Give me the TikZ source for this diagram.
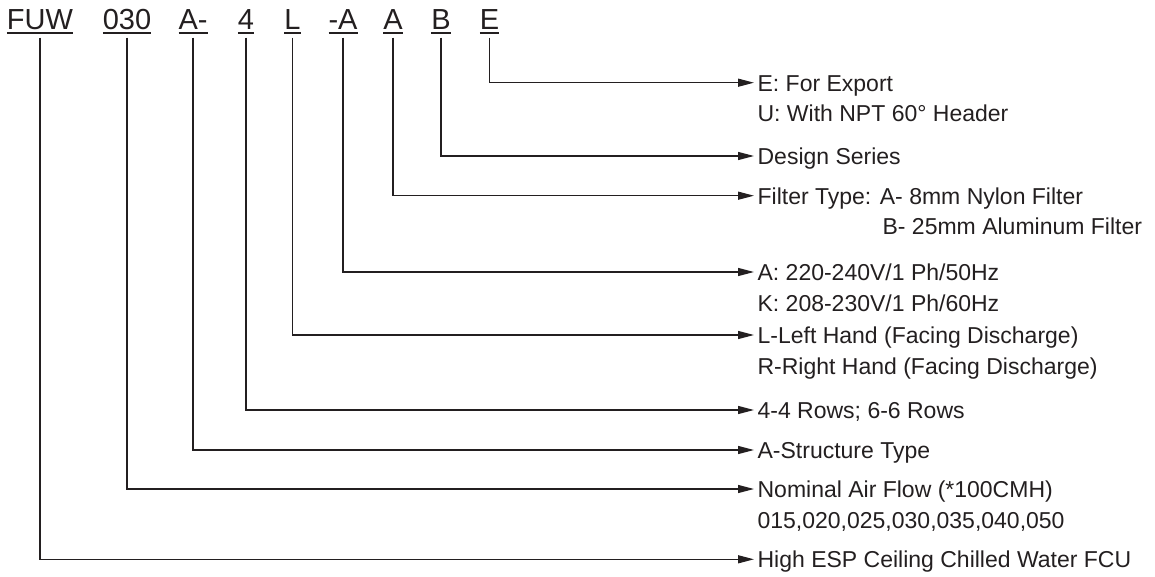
\documentclass[tikz,border=0pt]{standalone}
\usepackage{fontspec}
\setmainfont{Liberation Sans}
\usetikzlibrary{arrows.meta}
\definecolor{ink}{HTML}{231F20}
\tikzset{
  code/.style={font=\fontsize{14.5pt}{17pt}\selectfont, text=ink, inner sep=0pt, outer sep=0pt, text depth=0pt, anchor=base},
  desc/.style={font=\fontsize{11.5pt}{14pt}\selectfont, text=ink, inner ysep=0pt, inner xsep=1.8pt, outer sep=0pt, text height=8.5pt, text depth=0pt, anchor=base west},
  lead/.style={draw=ink, line width=0.65pt, -{Triangle[length=8pt,width=4pt]}},
  uline/.style={draw=ink, line width=0.95pt}
}
\begin{document}
\begin{tikzpicture}[x=0.5pt, y=-0.5pt]
  \useasboundingbox (0,0) rectangle (1155,577);
  % model code
  \node[code] (fuw)  at (40,29.3)    {FUW};
  \node[code] (cap)  at (127,29.3)   {030};
  \node[code] (stru) at (193,29.3)   {A-};
  \node[code] (row)  at (246,29.3)   {4};
  \node[code] (hand) at (292.5,29.3) {L};
  \node[code] (pwr)  at (343,29.3)   {-A};
  \node[code] (filt) at (393,29.3)   {A};
  \node[code] (ser)  at (441,29.3)   {B};
  \node[code] (exp)  at (489.5,29.3) {E};
  % meaning of each part
  \node[desc] (dexp)  at (754,91.2)  {E: For Export};
  \node[desc]         at (754,121.9) {U: With NPT 60° Header};
  \node[desc] (dser)  at (754,164.5) {Design Series};
  \node[desc] (dfilt) at (754,204.2) {Filter Type: A- 8mm Nylon Filter};
  \node[desc]         at (879,234.9) {B- 25mm Aluminum Filter};
  \node[desc] (dpwr)  at (754,280.5) {A: 220-240V/1 Ph/50Hz};
  \node[desc]         at (754,311.2) {K: 208-230V/1 Ph/60Hz};
  \node[desc] (dhand) at (754,343.5) {L-Left Hand (Facing Discharge)};
  \node[desc]         at (754,374.2) {R-Right Hand (Facing Discharge)};
  \node[desc] (drow)  at (754,418.5) {4-4 Rows; 6-6 Rows};
  \node[desc] (dstru) at (754,458.5) {A-Structure Type};
  \node[desc] (dcap)  at (754,497.5) {Nominal Air Flow (*100CMH)};
  \node[desc]         at (754,528.2) {015,020,025,030,035,040,050};
  \node[desc] (dfuw)  at (754,567.8) {High ESP Ceiling Chilled Water FCU};
  % underlines and leaders
  \foreach \c in {fuw,cap,stru,row,hand,pwr,filt,ser,exp} {
    \draw[uline] ([yshift=-2pt]\c.south west) -- ([yshift=-2pt]\c.south east);
    \draw[lead] ([yshift=-4.2pt]\c.south) |- (d\c.west);
  }
\end{tikzpicture}
\end{document}
